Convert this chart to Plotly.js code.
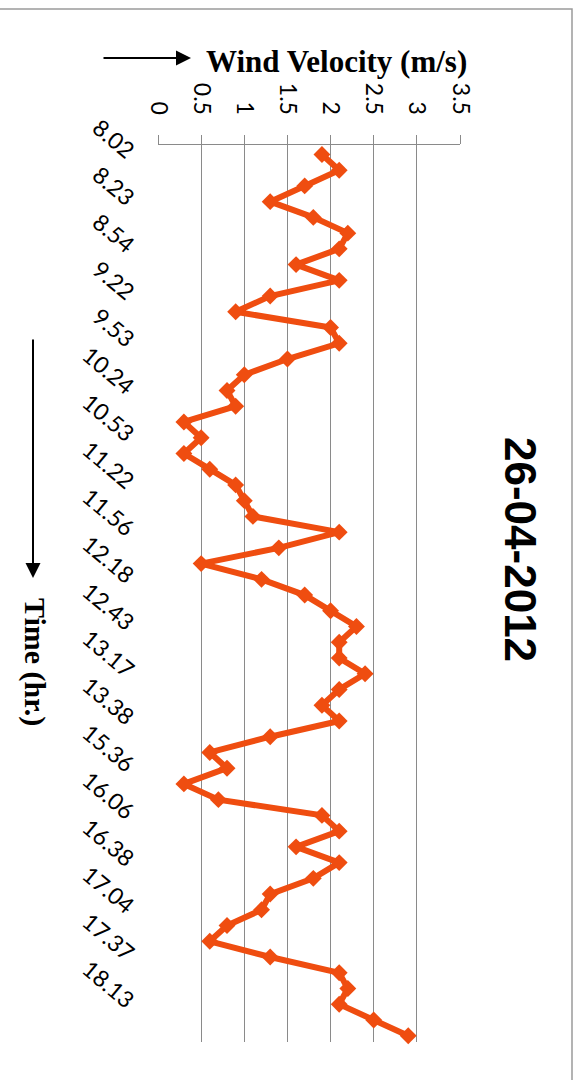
<!DOCTYPE html>
<html>
<head>
<meta charset="utf-8">
<script src="https://cdn.plot.ly/plotly-3.0.1.min.js"></script>
<style>
  html, body { margin: 0; padding: 0; background: #ffffff; }
  #chart { width: 582px; height: 1080px; }
</style>
</head>
<body>
<div id="chart"></div>
<script>
// Time of day labels, one for every third reading
const timeLabels = ['8.02', '8.23', '8.54', '9.22', '9.53', '10.24', '10.53', '11.22', '11.56',
  '12.18', '12.43', '13.17', '13.38', '15.36', '16.06', '16.38', '17.04', '17.37', '18.13'];

// Wind velocity readings (m/s), in time order
const windVelocity = [1.9, 2.1, 1.7, 1.3, 1.8, 2.2, 2.1, 1.6, 2.1, 1.3, 0.9, 2.0, 2.1, 1.5, 1.0,
  0.8, 0.9, 0.3, 0.5, 0.3, 0.6, 0.9, 1.0, 1.1, 2.1, 1.4, 0.5, 1.2, 1.7, 2.0, 2.3, 2.1, 2.1, 2.4,
  2.1, 1.9, 2.1, 1.3, 0.6, 0.8, 0.3, 0.7, 1.9, 2.1, 1.6, 2.1, 1.8, 1.3, 1.2, 0.8, 0.6, 1.3, 2.1,
  2.2, 2.1, 2.5, 2.9];

const labelStep = 3;
const readingIndex = windVelocity.map((v, i) => i);
const tickPositions = timeLabels.map((t, i) => i * labelStep);

const W = 582, H = 1080;
const M = { l: 158, r: 122, t: 145, b: 38 };
const plotW = W - M.l - M.r, plotH = H - M.t - M.b;
// pixel -> paper helpers for the decorations around the plot
const px = x => (x - M.l) / plotW;
const py = y => (H - M.b - y) / plotH;

const lineColor = '#EF4D10';
const tickFont = { size: 23, family: 'Lato, "Open Sans", sans-serif', color: '#000000' };

const trace = {
  type: 'scatter',
  mode: 'lines+markers',
  x: windVelocity,
  y: readingIndex,
  line: { color: lineColor, width: 6 },
  marker: { symbol: 'diamond', size: 13, color: lineColor },
  cliponaxis: false,
  hoverinfo: 'x+y'
};

const layout = {
  width: W,
  height: H,
  margin: M,
  paper_bgcolor: '#ffffff',
  plot_bgcolor: '#ffffff',
  showlegend: false,
  font: { family: 'Lato, "Open Sans", sans-serif', color: '#000000' },
  xaxis: {
    side: 'top',
    range: [0, 3.5],
    tickmode: 'linear',
    tick0: 0,
    dtick: 0.5,
    tickangle: 90,
    tickfont: tickFont,
    ticks: 'outside',
    ticklen: 9,
    tickcolor: '#8a8a8a',
    ticklabelstandoff: 12,
    showline: true,
    linecolor: '#8a8a8a',
    linewidth: 1,
    showgrid: true,
    gridcolor: '#8a8a8a',
    gridwidth: 1,
    zeroline: false,
    fixedrange: true
  },
  yaxis: {
    range: [56.4, -0.6],
    tickmode: 'array',
    tickvals: tickPositions,
    ticktext: timeLabels,
    tickangle: 40,
    tickfont: tickFont,
    ticks: '',
    ticklabelstandoff: 24,
    showline: false,
    showgrid: false,
    zeroline: false,
    fixedrange: true
  },
  shapes: [
    {
      type: 'rect', xref: 'paper', yref: 'paper',
      x0: px(-10), x1: px(572), y0: py(1100), y1: py(9),
      line: { color: '#9a9a9a', width: 1.5 }, fillcolor: 'rgba(0,0,0,0)', layer: 'below'
    }
  ],
  annotations: [
    {
      // horizontal axis title with its arrow
      text: '<b>Wind Velocity (m/s)</b>',
      xref: 'paper', yref: 'paper',
      x: px(336), y: py(62), xanchor: 'center', yanchor: 'middle',
      showarrow: false,
      font: { family: '"Liberation Serif", "Times New Roman", serif', size: 31, color: '#000000' }
    },
    {
      text: '',
      xref: 'paper', yref: 'paper',
      x: px(191), y: py(58), ax: -89, ay: 0,
      showarrow: true, arrowhead: 2, arrowsize: 1.5, arrowwidth: 2, arrowcolor: '#000000'
    },
    {
      // vertical axis title with its arrow
      text: '<b>Time (hr.)</b>',
      xref: 'paper', yref: 'paper',
      x: px(35), y: py(662), xanchor: 'center', yanchor: 'middle',
      textangle: 90,
      showarrow: false,
      font: { family: '"Liberation Serif", "Times New Roman", serif', size: 30, color: '#000000' }
    },
    {
      text: '',
      xref: 'paper', yref: 'paper',
      x: px(33), y: py(578), ax: 0, ay: -240,
      showarrow: true, arrowhead: 2, arrowsize: 1.5, arrowwidth: 2, arrowcolor: '#000000'
    },
    {
      // chart title: date of the measurements
      text: '<b>26-04-2012</b>',
      xref: 'paper', yref: 'paper',
      x: px(521), y: py(549), xanchor: 'center', yanchor: 'middle',
      textangle: 90,
      showarrow: false,
      font: { family: '"Liberation Sans", Arial, sans-serif', size: 44, color: '#000000' }
    }
  ]
};

Plotly.newPlot('chart', [trace], layout, { displayModeBar: false, staticPlot: true });
</script>
</body>
</html>
